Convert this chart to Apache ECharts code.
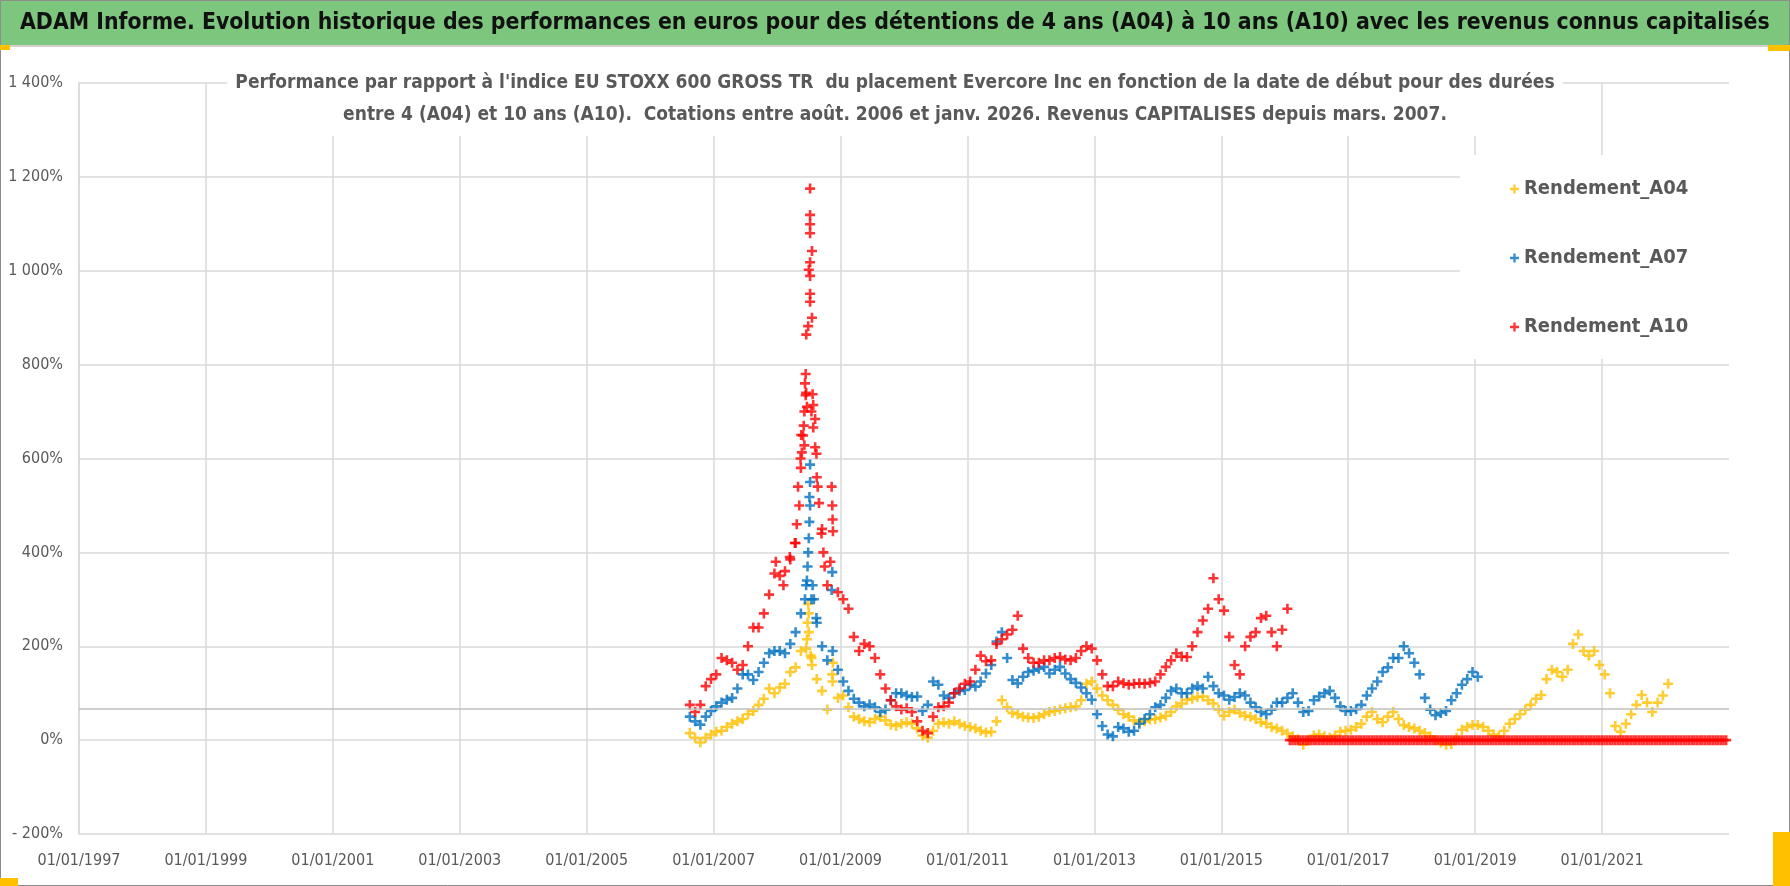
<!DOCTYPE html>
<html lang="fr">
<head>
<meta charset="utf-8" />
<script src="https://cdn.jsdelivr.net/npm/echarts@6/dist/echarts.min.js"></script>
</head>
<body style="margin:0">
<div id="container" style="width:1790px;height:886px;"></div>
<script type="text/javascript">
// valeurs, une par mois (en %)
const a04Start = [2006, 8];
const a04 = [
  15, 5, -5, 5, 12,
  18, 20, 28, 35, 40, 45, 55, 62, 75, 88, 110, 100,
  112, 120, 145, 155, 190, 195, 175, 130, 105, 65, 125, 90,
  95, 70, 50, 45, 40, 38, 45, 50, 42, 33, 30, 35,
  38, 35, 25, 10, 5, 20, 35, 38, 35, 40, 35, 30,
  28, 25, 20, 16, 18, 40, 85, 70, 58, 55, 50, 48,
  47, 50, 55, 60, 62, 65, 68, 70, 72, 85, 120, 125,
  110, 95, 85, 75, 65, 55, 50, 42, 38, 40, 44, 45,
  48, 52, 60, 72, 78, 86, 88, 92, 93, 85, 78, 65,
  52, 60, 65, 58, 52, 50, 45, 38, 35, 28, 25, 20,
  14, 8, 2, -10, 0, 10, 12, 8, 5, 10, 18, 20,
  22, 28, 35, 50, 60, 45, 38, 50, 60, 45, 32, 28,
  25, 20, 15, 8, 0, -5, -10, -8, 5, 22, 28, 32,
  32, 28, 20, 12, 8, 20, 35, 45, 55, 65, 75, 88,
  96, 130, 150, 145, 135, 150, 205, 225, 190, 180, 190, 160,
  140, 100, 30, 18, 35, 55, 75, 96, 80, 60, 80, 95,
  120
];
const a07Start = [2006, 8];
const a07 = [
  50, 40, 33, 50, 62,
  72, 80, 86, 90, 110, 140, 140, 128, 145, 165, 185, 190,
  190, 185, 205, 230, 270, 330, 300, 250, 200, 170, 190, 150,
  125, 105, 88, 80, 72, 76, 70, 60, 65, 85, 100, 100,
  95, 92, 93, 62, 75, 125, 118, 95, 90, 100, 105, 107,
  118, 114, 125, 142, 160, 210, 230, 175, 128, 121, 135, 145,
  148, 152, 156, 142, 150, 156, 142, 130, 122, 112, 100, 86,
  55, 30, 12, 8, 28, 25, 18, 20, 35, 45, 55, 70,
  75, 90, 105, 110, 100, 100, 110, 115, 110, 135, 115, 100,
  95, 86, 92, 100, 95, 80, 70, 60, 55, 65, 80, 80,
  90, 100, 80, 60, 62, 85, 93, 100, 105, 90, 72, 62,
  62, 66, 75, 95, 110, 125, 145, 155, 175, 175, 200, 185,
  165, 140, 90, 65, 53, 58, 62, 85, 100, 118, 130, 145,
  135
];
const a10Start = [2006, 8];
const a10 = [
  75, 60, 75, 115, 130,
  140, 175, 170, 165, 150, 160, 200, 240, 240, 270, 310, 355,
  350, 360, 385, 420, 580, 740, 700, 560, 450, 330, 470, 315,
  300, 280, 220, 190, 205, 200, 175, 140, 110, 85, 72, 65,
  68, 60, 40, 20, 15, 50, 70, 72, 80, 100, 110, 120,
  125, 150, 180, 168, 170, 205, 215, 225, 235, 265, 195, 175,
  165, 165, 170, 170, 175, 177, 172, 170, 175, 190, 200, 195,
  170, 140, 115, 115, 125, 121, 118, 120, 121, 120, 122, 125,
  140, 156, 170, 185, 178, 177, 200, 230, 255, 280, 345, 300,
  276, 220, 160, 140, 200, 220, 230, 260, 265, 230, 200, 235,
  280
];
// fin de série A10 : valeurs nulles, deux relevés par mois de févr. 2016 à déc. 2022
const a10ZeroStart = 2016.08;
const a10Zero = [
  0, 0, 0, 0, 0, 0, 0, 0, 0, 0, 0, 0, 0, 0, 0, 0, 0, 0, 0, 0, 0, 0,
  0, 0, 0, 0, 0, 0, 0, 0, 0, 0, 0, 0, 0, 0, 0, 0, 0, 0, 0, 0, 0, 0, 0, 0,
  0, 0, 0, 0, 0, 0, 0, 0, 0, 0, 0, 0, 0, 0, 0, 0, 0, 0, 0, 0, 0, 0, 0, 0,
  0, 0, 0, 0, 0, 0, 0, 0, 0, 0, 0, 0, 0, 0, 0, 0, 0, 0, 0, 0, 0, 0, 0, 0,
  0, 0, 0, 0, 0, 0, 0, 0, 0, 0, 0, 0, 0, 0, 0, 0, 0, 0, 0, 0, 0, 0, 0, 0,
  0, 0, 0, 0, 0, 0, 0, 0, 0, 0, 0, 0, 0, 0, 0, 0, 0, 0, 0, 0, 0, 0, 0, 0,
  0, 0, 0, 0, 0, 0, 0, 0, 0, 0, 0, 0, 0, 0, 0, 0, 0, 0, 0, 0, 0, 0, 0, 0
];
// points isolés du pic de 2008 : [année décimale, %]
const a04Spike = [[2008.49, 290], [2008.5, 270], [2008.48, 250], [2008.5, 230], [2008.47, 215],
  [2008.53, 180], [2008.55, 160], [2008.88, 165], [2008.87, 140]];
const a07Spike = [[2008.52, 587], [2008.52, 550], [2008.51, 518], [2008.52, 500], [2008.51, 465],
  [2008.5, 430], [2008.49, 400], [2008.48, 370], [2008.47, 340], [2008.56, 330], [2008.58, 300],
  [2008.87, 358], [2008.86, 320], [2008.44, 300], [2008.62, 260]];
const a10Spike = [[2008.52, 1175], [2008.52, 1119], [2008.52, 1099], [2008.52, 1080], [2008.55, 1042],
  [2008.52, 1018], [2008.5, 1002], [2008.52, 989], [2008.52, 951], [2008.52, 934], [2008.55, 900],
  [2008.49, 882], [2008.46, 864], [2008.45, 780], [2008.44, 760], [2008.45, 735], [2008.56, 737],
  [2008.57, 714], [2008.43, 700], [2008.47, 710], [2008.6, 684], [2008.57, 666], [2008.42, 670],
  [2008.41, 649], [2008.43, 628], [2008.39, 613], [2008.6, 624], [2008.62, 610], [2008.33, 540],
  [2008.35, 500], [2008.37, 600], [2008.38, 650], [2008.31, 460], [2008.64, 540], [2008.66, 505],
  [2008.7, 440], [2008.73, 400], [2008.75, 370], [2008.86, 540], [2008.87, 500], [2008.88, 445],
  [2008.84, 380], [2008.28, 420], [2008.2, 390], [2008.1, 330], [2007.98, 380]];
const refLine = 66;

const names = ['Rendement_A04', 'Rendement_A07', 'Rendement_A10'];
const colors = ['#FFC000', '#0070C0', '#FF0000'];
const narrow = "'DejaVu Sans Condensed', 'DejaVu Sans', sans-serif";
const plus = 'path://M3.7,0H6.3V3.7H10V6.3H6.3V10H3.7V6.3H0V3.7H3.7Z';

function monthly(start, vals) {
    return vals.map(function (v, i) {
        const m = start[1] - 1 + i;
        return [start[0] + (m + 0.5) / 12, v];
    });
}

function halfMonthly(start, vals) {
    return vals.map(function (v, i) { return [start + i / 24, v]; });
}

function pct(v) {
    if (v < 0) return '- ' + Math.abs(v) + '%';
    if (v >= 1000) return Math.floor(v / 1000) + ' ' + String(v % 1000).padStart(3, '0') + '%';
    return v + '%';
}

var dom = document.getElementById('container');
var myChart = echarts.init(dom, null, { renderer: 'canvas' });

// pas de quadrillage à 0 %, comme sur l'original
var gridColors = ['#D9D9D9', 'rgba(0,0,0,0)', '#D9D9D9', '#D9D9D9', '#D9D9D9',
    '#D9D9D9', '#D9D9D9', '#D9D9D9', '#D9D9D9'];

var option = {
    backgroundColor: '#ffffff',
    animation: false,
    graphic: [
        { type: 'rect', shape: { x: 0, y: 0, width: 1790, height: 45 }, style: { fill: '#7DC67D' }, z: -10 },
        { type: 'rect', shape: { x: 0, y: 45, width: 1790, height: 2 }, style: { fill: '#D0D0D0' }, z: -10 },
        { type: 'rect', shape: { x: 0.5, y: 0.5, width: 1789, height: 885 }, style: { fill: 'none', stroke: '#8C8C8C', lineWidth: 1 }, z: 10 },
        { type: 'rect', shape: { x: 0, y: 45, width: 10, height: 5 }, style: { fill: '#FFC000' }, z: 11 },
        { type: 'rect', shape: { x: 1768, y: 45, width: 22, height: 6 }, style: { fill: '#FFC000' }, z: 11 },
        { type: 'rect', shape: { x: 0, y: 878, width: 18, height: 8 }, style: { fill: '#FFC000' }, z: 11 },
        { type: 'rect', shape: { x: 1773, y: 832, width: 17, height: 54 }, style: { fill: '#FFC000' }, z: 11 }
    ],
    title: [{
        text: 'ADAM Informe. Evolution historique des performances en euros pour des détentions de 4 ans (A04) à 10 ans (A10) avec les revenus connus capitalisés',
        left: 20,
        top: 8,
        padding: 0,
        textStyle: { fontSize: 22.8, fontWeight: 'bold', color: '#111111', fontFamily: narrow, lineHeight: 30 }
    }, {
        text: "Performance par rapport à l'indice EU STOXX 600 GROSS TR  du placement Evercore Inc en fonction de la date de début pour des durées\nentre 4 (A04) et 10 ans (A10).  Cotations entre août. 2006 et janv. 2026. Revenus CAPITALISES depuis mars. 2007.",
        left: 'center',
        top: 64,
        backgroundColor: '#ffffff',
        padding: [3, 8, 5, 8],
        textStyle: { fontSize: 19, fontWeight: 'bold', color: '#595959', fontFamily: narrow, lineHeight: 32 }
    }],
    legend: {
        data: names,
        orient: 'vertical',
        left: 1460,
        top: 155,
        backgroundColor: '#ffffff',
        padding: [22, 50, 20, 50],
        itemGap: 45,
        itemWidth: 9,
        itemHeight: 9,
        icon: plus,
        textStyle: { fontSize: 20, fontWeight: 'bold', color: '#595959', fontFamily: narrow, lineHeight: 24 }
    },
    grid: { left: 79, right: 61, top: 83, bottom: 52, outerBoundsMode: 'none' },
    xAxis: {
        type: 'value',
        min: 1997,
        max: 2023,
        interval: 2,
        axisLine: { show: true, lineStyle: { color: '#D9D9D9', width: 1.5 } },
        axisTick: { show: false },
        splitLine: { show: true, showMaxLine: false, lineStyle: { color: '#D9D9D9', width: 1.5 } },
        axisLabel: {
            showMaxLabel: false,
            margin: 19,
            fontSize: 16,
            color: '#595959',
            fontFamily: narrow,
            formatter: function (v) { return '01/01/' + v; }
        }
    },
    yAxis: {
        type: 'value',
        min: -200,
        max: 1400,
        interval: 200,
        axisLine: { show: true, lineStyle: { color: '#D9D9D9', width: 1.5 } },
        axisTick: { show: false },
        splitLine: { show: true, lineStyle: { color: gridColors, width: 1.5 } },
        axisLabel: { margin: 16, fontSize: 16, color: '#595959', fontFamily: narrow, formatter: pct }
    },
    series: [{
        name: 'ref',
        type: 'line',
        data: [],
        z: 1,
        markLine: {
            silent: true,
            symbol: ['none', 'none'],
            label: { show: false },
            lineStyle: { color: '#BFBFBF', width: 1.5, type: 'solid' },
            data: [{ yAxis: refLine }]
        }
    }, {
        name: names[0],
        type: 'scatter',
        symbol: plus,
        symbolSize: 10,
        itemStyle: { color: colors[0] },
        data: monthly(a04Start, a04).concat(a04Spike)
    }, {
        name: names[1],
        type: 'scatter',
        symbol: plus,
        symbolSize: 10,
        itemStyle: { color: colors[1] },
        data: monthly(a07Start, a07).concat(a07Spike)
    }, {
        name: names[2],
        type: 'scatter',
        symbol: plus,
        symbolSize: 10,
        itemStyle: { color: colors[2] },
        data: monthly(a10Start, a10).concat(a10Spike).concat(halfMonthly(a10ZeroStart, a10Zero))
    }]
};

myChart.setOption(option);
window.addEventListener('resize', myChart.resize);
</script>
</body>
</html>
